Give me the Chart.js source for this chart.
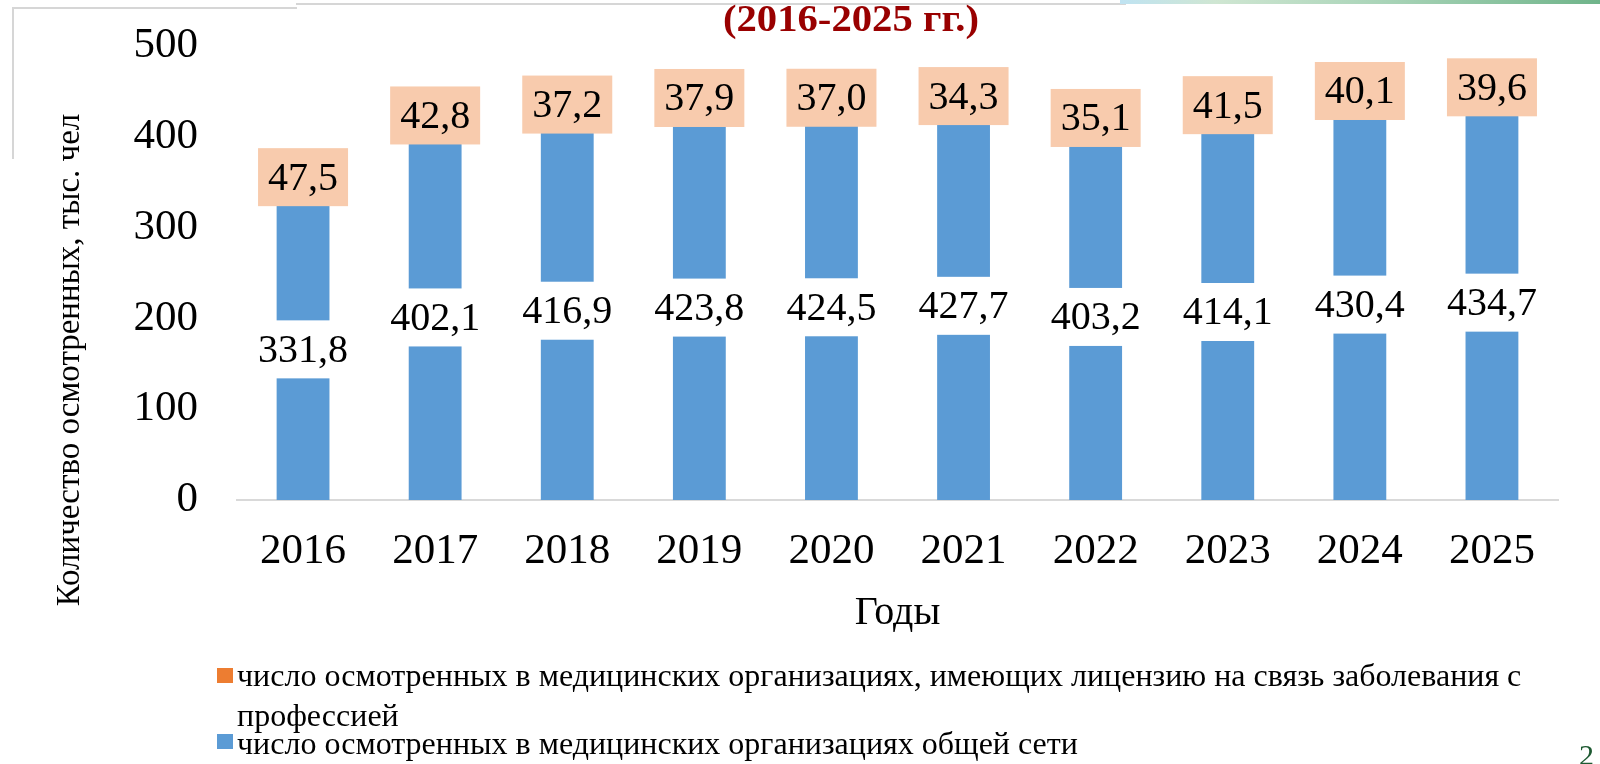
<!DOCTYPE html>
<html lang="ru">
<head>
<meta charset="utf-8">
<title>Количество осмотренных (2016-2025 гг.)</title>
<script src="https://cdn.jsdelivr.net/npm/chart.js@4.4.1/dist/chart.umd.min.js"></script>
<style>
  html, body { margin: 0; padding: 0; background: #fff; }
  body { width: 1600px; height: 764px; position: relative; overflow: hidden; font-family: "Liberation Serif", "Times New Roman", serif; }
  #chart { position: absolute; left: 0; top: 0; }
  .title { position: absolute; left: 551px; width: 600px; top: -1px; height: 40px; line-height: 40px; text-align: center; font-weight: bold; font-size: 37px; color: #990000; transform: scaleX(1.1); }
  .frame { position: absolute; background: #d6d6d6; }
  .strip { position: absolute; left: 1120px; top: 0; width: 480px; height: 4px; background: linear-gradient(90deg, #bfe3f2, #cfe6d2 20%, #a9d4b8 55%, #6fb48a); }
  .legend { position: absolute; left: 217px; top: 0; font-size: 32px; color: #000; }
  .legend .sw { position: absolute; left: 0; width: 16px; height: 15px; }
  .legend .txt { position: absolute; left: 20px; height: 36px; line-height: 36px; white-space: nowrap; }
  .pagenum { position: absolute; left: 1579px; top: 738px; font-size: 30px; color: #1e5a32; }
</style>
</head>
<body>
<div class="frame" style="left:12px; top:7px; width:285px; height:2px;"></div>
<div class="frame" style="left:296px; top:3px; width:830px; height:2px;"></div>
<div class="frame" style="left:12px; top:7px; width:2px; height:152px;"></div>
<div class="strip"></div>
<canvas id="chart" width="1600" height="764"></canvas>
<div class="title">(2016-2025 гг.)</div>
<div class="legend" id="legend"></div>
<div class="pagenum">2</div>
<script>
// годы
const years = ['2016', '2017', '2018', '2019', '2020', '2021', '2022', '2023', '2024', '2025'];
// число осмотренных в МО общей сети, тыс. чел
const generalNetwork = [331.8, 402.1, 416.9, 423.8, 424.5, 427.7, 403.2, 414.1, 430.4, 434.7];
// число осмотренных в МО с лицензией на связь заболевания с профессией, тыс. чел
const licensed = [47.5, 42.8, 37.2, 37.9, 37.0, 34.3, 35.1, 41.5, 40.1, 39.6];
const yTicks = [0, 100, 200, 300, 400, 500];

const labelGeneral = 'число осмотренных в медицинских организациях общей сети';
const labelLicensed = 'число осмотренных в медицинских организациях, имеющих лицензию на связь заболевания с профессией';
const yTitle = 'Количество осмотренных, тыс. чел';

const serif = '"Liberation Serif", "Times New Roman", serif';

// подписи значений с подложкой + подпись оси Y (смещена вниз, как в оригинале)
const valueLabels = {
  id: 'valueLabels',
  afterDatasetsDraw(chart) {
    const ctx = chart.ctx;
    ctx.save();
    ctx.font = '40px ' + serif;
    ctx.textAlign = 'center';
    ctx.textBaseline = 'middle';
    chart.data.datasets.forEach((ds, i) => {
      const meta = chart.getDatasetMeta(i);
      meta.data.forEach((bar, j) => {
        const text = ds.data[j].toFixed(1).replace('.', ',');
        const cy = (bar.y + bar.base) / 2;
        const w = ctx.measureText(text).width + 20;
        const h = 58;
        ctx.fillStyle = ds.labelBg;
        ctx.fillRect(bar.x - w / 2, cy - h / 2, w, h);
        ctx.fillStyle = '#000';
        ctx.fillText(text, bar.x, cy + 2);
      });
    });
    ctx.translate(70, 360);
    ctx.rotate(-Math.PI / 2);
    ctx.font = '33px ' + serif;
    ctx.fillText(yTitle, 0, 0);
    ctx.restore();
  }
};

const chart = new Chart(document.getElementById('chart'), {
  type: 'bar',
  data: {
    labels: years,
    datasets: [
      { label: labelGeneral, data: generalNetwork, backgroundColor: '#5B9BD5', labelBg: '#ffffff' },
      { label: labelLicensed, data: licensed, backgroundColor: '#ED7D31', labelBg: '#F8CBAD' }
    ]
  },
  options: {
    responsive: false,
    animation: false,
    events: [],
    barPercentage: 0.4,
    categoryPercentage: 1.0,
    layout: { padding: { left: 0, right: 42, top: 46, bottom: 124 } },
    plugins: { legend: { display: false }, tooltip: { enabled: false } },
    scales: {
      x: {
        stacked: true,
        grid: { display: false, drawTicks: false },
        border: { display: true, color: '#d9d9d9', width: 2 },
        ticks: { color: '#000', font: { family: serif, size: 43 }, padding: 26, maxRotation: 0 },
        title: { display: true, text: 'Годы', color: '#000', font: { family: serif, size: 40 }, padding: { top: 0, bottom: 3 } },
        afterFit(scale) { scale.height = 140; }
      },
      y: {
        stacked: true,
        min: 0,
        max: 500,
        afterBuildTicks(scale) { scale.ticks = yTicks.map(v => ({ value: v })); },
        grid: { display: false, drawTicks: false },
        border: { display: false },
        ticks: { color: '#000', font: { family: serif, size: 43 }, padding: 39 },
        afterFit(scale) {
          scale.width = 237;
          scale.paddingTop = 0;
          scale.paddingBottom = 0;
        }
      }
    }
  },
  plugins: [valueLabels]
});

// легенда (оранжевая серия первой, с переносом строки)
const legend = document.getElementById('legend');
legend.innerHTML =
  '<span class="sw" style="top:668px;background:#ED7D31"></span>' +
  '<span class="txt" style="top:657px">число осмотренных в медицинских организациях, имеющих лицензию на связь заболевания с</span>' +
  '<span class="txt" style="top:697px">профессией</span>' +
  '<span class="sw" style="top:734px;background:#5B9BD5"></span>' +
  '<span class="txt" style="top:725px">' + labelGeneral + '</span>';
</script>
</body>
</html>
